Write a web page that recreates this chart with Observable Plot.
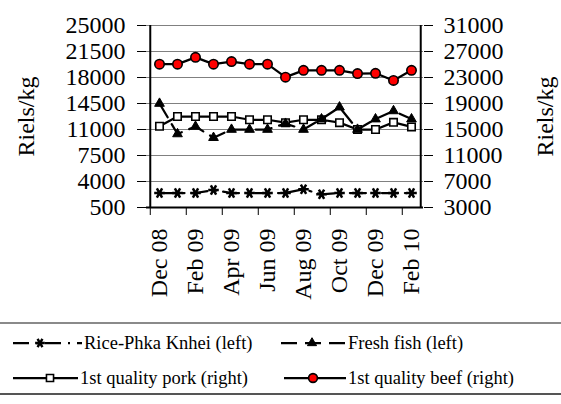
<!DOCTYPE html>
<html><head><meta charset="utf-8">
<script src="https://cdn.jsdelivr.net/npm/d3@7"></script>
<script src="https://cdn.jsdelivr.net/npm/@observablehq/plot@0.6"></script>
<style>
body{margin:0;background:#fff;font-family:"Liberation Serif","Times New Roman",Times,"DejaVu Serif",serif;}
#chart{width:561px;height:322px;}
#chart svg text{font-family:"Liberation Serif","Times New Roman",Times,"DejaVu Serif",serif;}
#legend{position:relative;width:561px;height:69px;border-top:2px solid #8a8a8a;border-bottom:2px solid #555;}
.item{position:absolute;display:flex;align-items:center;height:26px;font-size:18.5px;white-space:nowrap;color:#000;font-family:"Liberation Serif","Times New Roman",Times,"DejaVu Serif",serif;}
.item svg{flex:none;display:block}
</style></head><body>
<div id="chart"></div><div id="legend"></div>
<script>
// Categories (months)
const months = ["Dec 08","Jan 09","Feb 09","Mar 09","Apr 09","May 09","Jun 09","Jul 09","Aug 09","Sep 09","Oct 09","Nov 09","Dec 09","Jan 10","Feb 10"];
const labelMonths = ["Dec 08","Feb 09","Apr 09","Jun 09","Aug 09","Oct 09","Dec 09","Feb 10"];
// Left-axis series (Riels/kg)
const rice = [2450,2450,2450,2850,2450,2450,2450,2450,2950,2280,2450,2450,2450,2450,2450];
const fish = [14500,10400,11400,9900,11000,11000,11000,11800,11000,12400,14000,11000,12400,13500,12400];
// Right-axis series (Riels/kg)
const pork = [15500,17000,17000,17000,17000,16500,16500,16050,16500,16500,16050,15000,15000,16100,15400];
const beef = [25050,25050,26100,25050,25450,25050,25050,23050,24100,24100,24100,23600,23650,22550,24100];
// Tick labels
const leftTicks = [500,4000,7500,11000,14500,18000,21500,25000];
const rightTicks = [3000,7000,11000,15000,19000,23000,27000,31000];

const W = 561, ML = 146, MR = 138;
const step = (W - ML - MR) / months.length;
// right axis [3000,31000] mapped onto left axis [500,25000]
const toLeft = v => 500 + (v - 3000) * (24500 / 28000);
const rightLabel = d => String(rightTicks[leftTicks.indexOf(d)]);

const data = months.map((m, i) => ({m, rice: rice[i], fish: fish[i], pork: toLeft(pork[i]), beef: toLeft(beef[i])}));

const serif = "'Liberation Serif', 'Times New Roman', Times, 'DejaVu Serif', serif";
const plot = Plot.plot({
  width: W, height: 322,
  marginTop: 25, marginLeft: ML, marginRight: MR, marginBottom: 115,
  style: {fontFamily: serif, fontSize: "24px", background: "white", color: "black", overflow: "visible"},
  x: {type: "point", domain: months, padding: 0.5},
  y: {domain: [500, 25000]},
  marks: [
    Plot.gridY(leftTicks, {stroke: "#808080", strokeOpacity: 1, strokeWidth: 1}),
    Plot.ruleY([500], {stroke: "black", strokeWidth: 2}),
    Plot.ruleX([months[0]], {dx: -step / 2, stroke: "black", strokeWidth: 2}),
    Plot.ruleX([months[months.length - 1]], {dx: step / 2, stroke: "black", strokeWidth: 2}),
    Plot.axisY(leftTicks, {anchor: "left", tickSize: 9, tickPadding: 12, label: null, tickFormat: d => String(d)}),
    Plot.axisY(leftTicks, {anchor: "right", tickSize: 9, tickPadding: 11, label: null, tickFormat: rightLabel}),
    Plot.axisX(labelMonths, {tickSize: 0, tickRotate: -90, tickPadding: 21, label: null}),
    Plot.axisX(labelMonths, {tickSize: 8, tickFormat: () => "", dx: -step / 2, label: null}),
    Plot.text(["Riels/kg"], {text: d => d, frameAnchor: "left", dx: -120, rotate: -90, textAnchor: "middle", lineAnchor: "middle", fontSize: 24}),
    Plot.text(["Riels/kg"], {text: d => d, frameAnchor: "right", dx: 122, rotate: -90, textAnchor: "middle", lineAnchor: "middle", fontSize: 24}),
    // pork
    Plot.line(data, {x: "m", y: "pork", stroke: "black", strokeWidth: 2.25}),
    Plot.dot(data, {x: "m", y: "pork", symbol: "square", r: 4.2, fill: "white", stroke: "black", strokeWidth: 1.6}),
    // beef
    Plot.line(data, {x: "m", y: "beef", stroke: "black", strokeWidth: 2.25}),
    Plot.dot(data, {x: "m", y: "beef", symbol: "circle", r: 4.7, fill: "#ff0000", stroke: "black", strokeWidth: 1.6}),
    // rice
    Plot.line(data, {x: "m", y: "rice", stroke: "black", strokeWidth: 2.25, strokeDasharray: "16,7,2,7"}),
    Plot.dot(data, {x: "m", y: "rice", symbol: "asterisk", r: 5, stroke: "black", strokeWidth: 2.5, rotate: 90}),
    // fish
    Plot.line(data, {x: "m", y: "fish", stroke: "black", strokeWidth: 2.25, strokeDasharray: "16,8"}),
    Plot.dot(data, {x: "m", y: "fish", symbol: "triangle", r: 3.6, fill: "black", stroke: "black", strokeWidth: 1})
  ]
});
document.getElementById("chart").appendChild(plot);

// Legend
const legendItems = [
  {name: "Rice-Phka Knhei (left)", left: 10, top: 6, dash: "16,7,2,7", sym: d3.symbolAsterisk, r: 4.6, fill: "none", sw: 2.4, rot: 90, mx: 30, w: 74},
  {name: "Fresh fish (left)", left: 278, top: 6, dash: "16,8", sym: d3.symbolTriangle, r: 3.4, fill: "black", sw: 1, rot: 0, mx: 34, w: 70},
  {name: "1st quality pork (right)", left: 10, top: 41, dash: null, sym: d3.symbolSquare, r: 4, fill: "white", sw: 1.6, rot: 0, mx: 40, w: 70},
  {name: "1st quality beef (right)", left: 281, top: 41, dash: null, sym: d3.symbolCircle, r: 4.4, fill: "#ff0000", sw: 1.6, rot: 0, mx: 32, w: 67}
];
const legend = document.getElementById("legend");
for (const it of legendItems) {
  const div = document.createElement("div");
  div.className = "item";
  div.style.left = it.left + "px";
  div.style.top = it.top + "px";
  const path = d3.symbol(it.sym, Math.PI * it.r * it.r)();
  div.innerHTML = `<svg width="${it.w}" height="20"><line x1="3" x2="${it.w - 2}" y1="10" y2="10" stroke="black" stroke-width="2.25" ${it.dash ? `stroke-dasharray="${it.dash}"` : ""}/><path d="${path}" transform="translate(${it.mx},10) rotate(${it.rot})" fill="${it.fill}" stroke="black" stroke-width="${it.sw}"/></svg><span>${it.name}</span>`;
  legend.appendChild(div);
}
</script>
</body></html>
